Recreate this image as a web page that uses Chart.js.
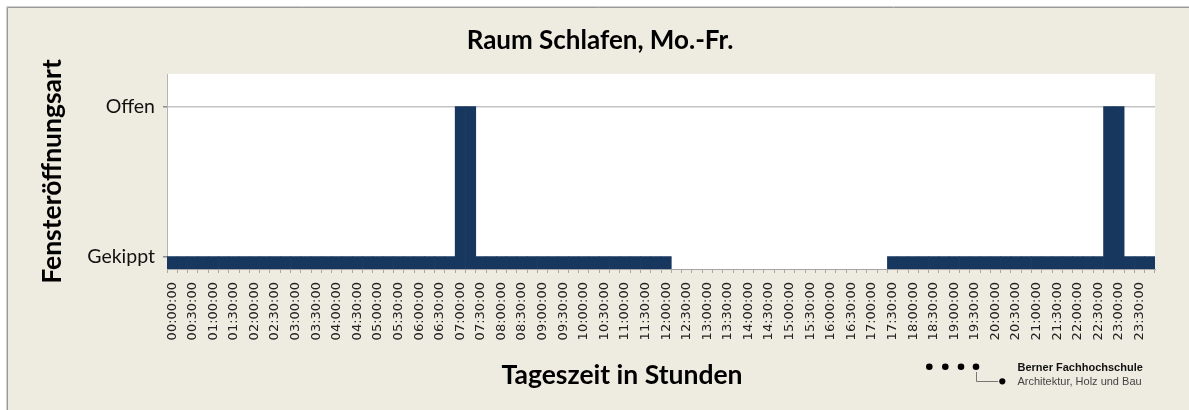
<!DOCTYPE html>
<html>
<head>
<meta charset="utf-8">
<script src="https://cdn.jsdelivr.net/npm/chart.js@4.4.0/dist/chart.umd.min.js"></script>
<style>
html,body{margin:0;padding:0;background:#fff;}
#wrap{width:1189px;height:410px;position:relative;}
</style>
</head>
<body>
<div id="wrap"><canvas id="c"></canvas></div>
<script>
// ---- Data ----
const categories = [
  "00:00:00","00:15:00","00:30:00","00:45:00","01:00:00","01:15:00","01:30:00","01:45:00",
  "02:00:00","02:15:00","02:30:00","02:45:00","03:00:00","03:15:00","03:30:00","03:45:00",
  "04:00:00","04:15:00","04:30:00","04:45:00","05:00:00","05:15:00","05:30:00","05:45:00",
  "06:00:00","06:15:00","06:30:00","06:45:00","07:00:00","07:15:00","07:30:00","07:45:00",
  "08:00:00","08:15:00","08:30:00","08:45:00","09:00:00","09:15:00","09:30:00","09:45:00",
  "10:00:00","10:15:00","10:30:00","10:45:00","11:00:00","11:15:00","11:30:00","11:45:00",
  "12:00:00","12:15:00","12:30:00","12:45:00","13:00:00","13:15:00","13:30:00","13:45:00",
  "14:00:00","14:15:00","14:30:00","14:45:00","15:00:00","15:15:00","15:30:00","15:45:00",
  "16:00:00","16:15:00","16:30:00","16:45:00","17:00:00","17:15:00","17:30:00","17:45:00",
  "18:00:00","18:15:00","18:30:00","18:45:00","19:00:00","19:15:00","19:30:00","19:45:00",
  "20:00:00","20:15:00","20:30:00","20:45:00","21:00:00","21:15:00","21:30:00","21:45:00",
  "22:00:00","22:15:00","22:30:00","22:45:00","23:00:00","23:15:00","23:30:00","23:45:00"
];
// 1 = Gekippt, 2 = Offen, null = geschlossen
const oeffnung = [
  1,1,1,1,1,1,1,1, 1,1,1,1,1,1,1,1, 1,1,1,1,1,1,1,1, 1,1,1,1,2,2,1,1,
  1,1,1,1,1,1,1,1, 1,1,1,1,1,1,1,1, 1,null,null,null,null,null,null,null,
  null,null,null,null,null,null,null,null, null,null,null,null,null,null,1,1,
  1,1,1,1,1,1,1,1, 1,1,1,1,1,1,1,1, 1,1,1,2,2,1,1,1
];
const yTickValues = [1, 2];
const yTickLabels = ["Gekippt", "Offen"];
const chartTitle = "Raum Schlafen, Mo.-Fr.";
const xAxisTitle = "Tageszeit in Stunden";
const yAxisTitle = "Fensteröffnungsart";
const logoTitle = "Berner Fachhochschule";
const logoSub = "Architektur, Holz und Bau";

// ---- Plugins ----
const bgPlugin = {
  id: 'bg',
  beforeDraw(chart) {
    const ctx = chart.ctx, W = chart.width, H = chart.height, a = chart.chartArea;
    ctx.save();
    ctx.fillStyle = '#ffffff';
    ctx.fillRect(0, 0, W, H);
    ctx.fillStyle = '#EEECE1';
    ctx.fillRect(8, 8, W - 8, H - 8);
    ctx.strokeStyle = '#9a9a9a';
    ctx.lineWidth = 1;
    ctx.beginPath();
    ctx.moveTo(7.5, H); ctx.lineTo(7.5, 7.5); ctx.lineTo(W, 7.5);
    ctx.stroke();
    ctx.strokeStyle = '#cfcfcf';
    ctx.beginPath();
    ctx.moveTo(6.5, H); ctx.lineTo(6.5, 6.5); ctx.lineTo(W, 6.5);
    ctx.stroke();
    ctx.fillStyle = '#ffffff';
    ctx.fillRect(a.left, a.top, a.right - a.left, a.bottom - a.top);
    ctx.restore();
  }
};

const textPlugin = {
  id: 'texts',
  afterDraw(chart) {
    const ctx = chart.ctx;
    ctx.save();
    // x-axis title
    ctx.fillStyle = '#000';
    ctx.font = 'bold 26.5px Lato';
    ctx.textAlign = 'center';
    ctx.textBaseline = 'alphabetic';
    ctx.fillText(xAxisTitle, 622, 383.5);
    // logo
    ctx.fillStyle = '#000';
    [929.3, 945.3, 961, 976].forEach(x => {
      ctx.beginPath(); ctx.arc(x, 366.7, 3.3, 0, Math.PI * 2); ctx.fill();
    });
    ctx.strokeStyle = '#777';
    ctx.lineWidth = 1;
    ctx.beginPath();
    ctx.moveTo(976.5, 372); ctx.lineTo(976.5, 381.5); ctx.lineTo(998, 381.5);
    ctx.stroke();
    ctx.beginPath(); ctx.arc(1002.3, 381.3, 3.1, 0, Math.PI * 2); ctx.fill();
    ctx.textAlign = 'left';
    ctx.font = 'bold 11px "Liberation Sans", Arial, sans-serif';
    ctx.fillStyle = '#111';
    ctx.fillText(logoTitle, 1017.5, 370.5);
    ctx.font = '11px "Liberation Sans", Arial, sans-serif';
    ctx.fillStyle = '#444';
    ctx.fillText(logoSub, 1017.5, 384.5);
    ctx.restore();
  }
};

new Chart(document.getElementById('c'), {
  type: 'bar',
  data: {
    labels: categories,
    datasets: [{
      data: oeffnung,
      backgroundColor: '#17375E',
      borderWidth: 0,
      barPercentage: 1,
      categoryPercentage: 1
    }]
  },
  plugins: [bgPlugin, textPlugin],
  options: {
    responsive: true,
    maintainAspectRatio: false,
    animation: false,
    layout: { padding: { left: 45, right: 34, top: 0, bottom: 0 } },
    plugins: {
      legend: { display: false },
      tooltip: { enabled: false },
      title: {
        display: true,
        text: chartTitle,
        color: '#000',
        font: { family: 'Lato', size: 26, weight: 'bold', lineHeight: 1.2 },
        padding: { top: 25.5, bottom: 17.3 }
      }
    },
    scales: {
      x: {
        type: 'category',
        offset: true,
        grid: { offset: true, drawOnChartArea: false, drawTicks: true, tickLength: 4, color: '#a6a6a6' },
        border: { display: true, color: '#a6a6a6', width: 1 },
        ticks: {
          autoSkip: false,
          maxRotation: 90,
          minRotation: 90,
          padding: 9,
          color: '#222',
          font: { family: 'DejaVu Sans', size: 13 },
          callback: function (value, index) {
            return index % 2 === 0 ? this.getLabelForValue(value) : '';
          }
        },
        afterFit(scale) { scale.height = 141; }
      },
      y: {
        type: 'linear',
        min: 0.917,
        max: 2.218,
        afterBuildTicks(scale) { scale.ticks = yTickValues.map(v => ({ value: v })); },
        grid: {
          drawTicks: true,
          tickLength: 4,
          lineWidth: 1.5,
          color: (c) => (c.tick && c.tick.value === 2) ? '#c4c4c4' : 'rgba(0,0,0,0)',
          tickColor: '#8c8c8c'
        },
        border: { display: true, color: '#b5b5b5', width: 1 },
        ticks: {
          padding: 8,
          color: '#111',
          font: { family: 'Lato', size: 19.5 },
          callback: (v) => {
            const i = yTickValues.indexOf(v);
            return i >= 0 ? yTickLabels[i] : '';
          }
        },
        title: {
          display: true,
          text: yAxisTitle,
          color: '#000',
          font: { family: 'Lato', size: 26.5, weight: 'bold', lineHeight: 0.4 },
          padding: { top: 2, bottom: 0 }
        },
        afterFit(scale) { scale.width = 122; }
      }
    }
  }
});
</script>
</body>
</html>
